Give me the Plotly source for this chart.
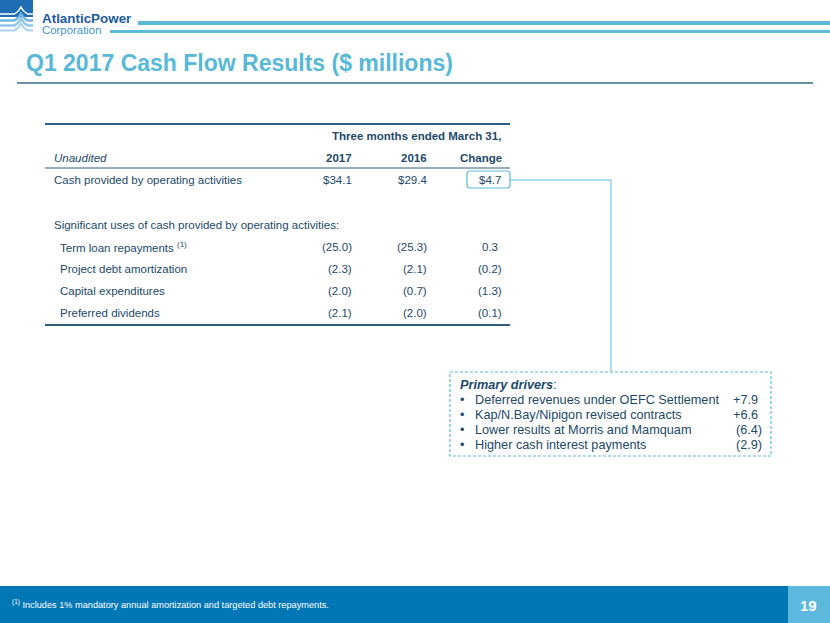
import plotly.graph_objects as go

# ---------------- data ----------------
title_text = "Q1 2017 Cash Flow Results ($ millions)"
period_header = "Three months ended March 31,"
col_headers = ["2017", "2016", "Change"]
main_label = "Cash provided by operating activities"
main_2017 = 34.1
main_2016 = 29.4
main_change = 4.7
section_label = "Significant uses of cash provided by operating activities:"
use_labels = ["Term loan repayments <sup>(1)</sup>", "Project debt amortization",
              "Capital expenditures", "Preferred dividends"]
use_2017 = [-25.0, -2.3, -2.0, -2.1]
use_2016 = [-25.3, -2.1, -0.7, -2.0]
use_change = [0.3, -0.2, -1.3, -0.1]
driver_labels = ["Deferred revenues under OEFC Settlement",
                 "Kap/N.Bay/Nipigon revised contracts",
                 "Lower results at Morris and Mamquam",
                 "Higher cash interest payments"]
driver_values = [7.9, 6.6, -6.4, -2.9]
footnote = "<sup>(1)</sup> Includes 1% mandatory annual amortization and targeted debt repayments."
page_number = "19"

# ---------------- styles ----------------
FONT = "Arial, Liberation Sans, sans-serif"
TXT = "#22496a"
RULE = "#2f5f80"
LIGHT = "#5bbbe3"
TITLE_C = "#58b8d9"
TS = 11.5  # table font size
DS = 12.7  # drivers font size

def fmt(v, dollar=False):
    if v < 0:
        return "(%.1f)" % abs(v)
    return ("$%.1f" % v) if dollar else "%.1f" % v

def fmt_driver(v):
    return "+%.1f" % v if v >= 0 else "(%.1f)" % abs(v)

fig = go.Figure()
ann = []
shapes = []

def text(x, y, s, size=TS, color=TXT, xanchor="left", bold=False, italic=False, xshift=0):
    if bold:
        s = "<b>" + s + "</b>"
    if italic:
        s = "<i>" + s + "</i>"
    ann.append(dict(x=x, y=y, xref="x", yref="y", text=s, showarrow=False,
                    xanchor=xanchor, yanchor="middle", xshift=xshift, borderpad=0,
                    font=dict(family=FONT, size=size, color=color)))

def line(x0, y0, x1, y1, color, width=1, dash=None):
    ln = dict(color=color, width=width)
    if dash:
        ln["dash"] = dash
    shapes.append(dict(type="line", xref="x", yref="y", x0=x0, y0=y0, x1=x1, y1=y1, line=ln))

def wave(yy, color, width):
    shapes.append(dict(type="path", xref="x", yref="y",
                       path="M0,%g L14,%g Q18,%g 21,%g Q24,%g 28,%g L33,%g" % (yy, yy, yy - 1.5, yy - 7, yy - 1.5, yy, yy),
                       line=dict(color=color, width=width)))

# ---------- logo ----------
shapes.append(dict(type="rect", xref="x", yref="y", x0=0, y0=0, x1=33, y1=17,
                   fillcolor="#1f6db5", line=dict(width=0)))
wave(14, "white", 1.5)
wave(20.5, "#6fb5e4", 2.5)
wave(25.5, "#8cc6ea", 2.5)
wave(30.5, "#a8d4ef", 2)
text(41, 18, "AtlanticPower", size=13.4, color="#1d5aa6", bold=True)
text(41, 29.5, "Corporation", size=11.4, color="#4196d2")
shapes.append(dict(type="rect", xref="x", yref="y", x0=138, y0=21, x1=830, y1=25,
                   fillcolor="#5bbad8", line=dict(width=0)))
shapes.append(dict(type="rect", xref="x", yref="y", x0=110, y0=30, x1=830, y1=33,
                   fillcolor="#5bbad8", line=dict(width=0)))

# ---------- title ----------
text(25, 63, title_text, size=23, color=TITLE_C, bold=True)
line(17, 83, 813, 83, "#6a8fa5", 2)

# ---------- table ----------
c_right = [353, 428, 503]
line(45, 124, 510, 124, RULE, 2)
text(502, 136, period_header, bold=True, xanchor="right")
text(53, 158, "Unaudited", italic=True)
for x, h in zip(c_right, col_headers):
    text(x, 158, h, bold=True, xanchor="right")
line(45, 168, 510, 168, RULE, 1)

text(53, 180, main_label)
text(c_right[0], 180, fmt(main_2017, True), xanchor="right")
text(c_right[1], 180, fmt(main_2016, True), xanchor="right")
text(c_right[2], 180, fmt(main_change, True), xanchor="right", xshift=-1)
# rounded highlight box
bx0, by0, bx1, by1, r = 467, 171, 510, 188, 3
shapes.append(dict(type="path", xref="x", yref="y",
                   path=("M%d,%d L%d,%d Q%d,%d %d,%d L%d,%d Q%d,%d %d,%d L%d,%d Q%d,%d %d,%d L%d,%d Q%d,%d %d,%d Z" % (
                       bx0 + r, by0, bx1 - r, by0, bx1, by0, bx1, by0 + r, bx1, by1 - r, bx1, by1, bx1 - r, by1,
                       bx0 + r, by1, bx0, by1, bx0, by1 - r, bx0, by0 + r, bx0, by0, bx0 + r, by0)),
                   line=dict(color=LIGHT, width=1.2)))

text(53, 225, section_label)
row_y = [247, 269, 291, 313]
for i, y in enumerate(row_y):
    text(59, y, use_labels[i])
    text(c_right[0], y, fmt(use_2017[i]), xanchor="right")
    text(c_right[1], y, fmt(use_2016[i]), xanchor="right")
    text(c_right[2], y, fmt(use_change[i]), xanchor="right",
         xshift=(-4 if use_change[i] >= 0 else 0))
line(45, 325, 510, 325, RULE, 2)

# connector
line(510, 180, 611, 180, LIGHT, 1)
line(611, 180, 611, 372, LIGHT, 1)

# ---------- drivers box ----------
shapes.append(dict(type="rect", xref="x", yref="y", x0=450, y0=372, x1=771, y1=456,
                   line=dict(color=LIGHT, width=1.2, dash="3px,2px")))
text(459, 385, "<b><i>Primary drivers</i></b>:", size=DS)
dy = [400, 415, 430, 445]
for lab, v, y in zip(driver_labels, driver_values, dy):
    text(459, y, "•", size=DS)
    text(474, y, lab, size=DS)
    text(763, y, fmt_driver(v), size=DS, xanchor="right", xshift=(-4 if v >= 0 else 0))

# ---------- footer ----------
shapes.append(dict(type="rect", xref="x", yref="y", x0=0, y0=586, x1=788, y1=623,
                   fillcolor="#0277b6", line=dict(width=0)))
shapes.append(dict(type="rect", xref="x", yref="y", x0=788, y0=586, x1=830, y1=623,
                   fillcolor="#5db8de", line=dict(width=0)))
text(11, 604, footnote, size=9.2, color="white")
text(808, 605, page_number, size=15, color="white", bold=True, xanchor="center")

fig.update_layout(
    width=830, height=623,
    margin=dict(l=0, r=0, t=0, b=0),
    paper_bgcolor="white", plot_bgcolor="white",
    xaxis=dict(range=[0, 830], visible=False, fixedrange=True),
    yaxis=dict(range=[623, 0], visible=False, fixedrange=True),
    annotations=ann, shapes=shapes, showlegend=False,
)
fig.write_html("out.html", config={"displayModeBar": False},
               post_script="document.body.style.margin='0';document.body.style.overflow='hidden';")
